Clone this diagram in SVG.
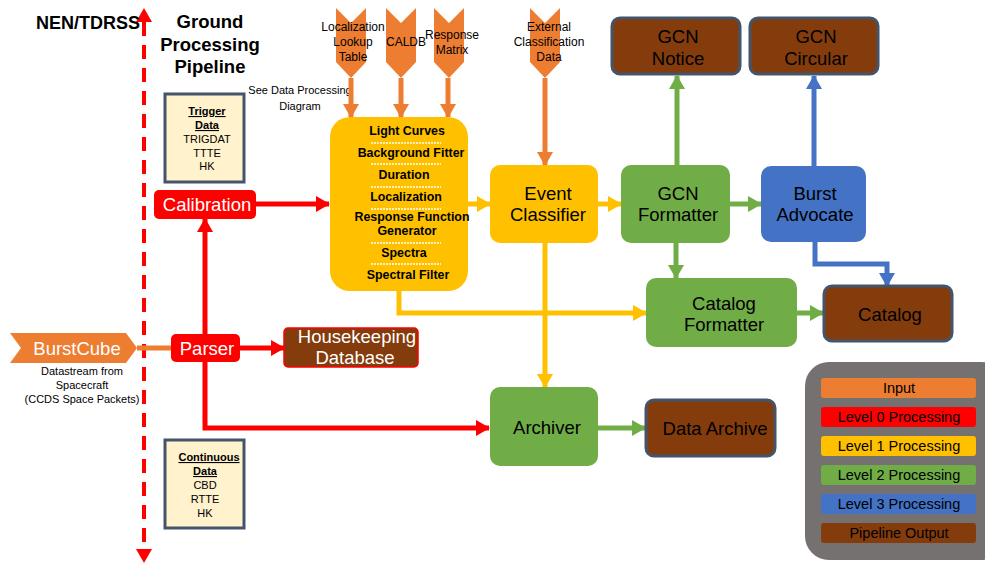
<svg xmlns="http://www.w3.org/2000/svg" width="985" height="565" viewBox="0 0 985 565">
<defs>
<style>
text{font-family:"Liberation Sans",Arial,sans-serif;text-anchor:middle}
.t17{font-size:18.5px}
.w{fill:#fff}
.b{fill:#000}
.bold{font-weight:bold}
.sm{font-size:11px}
.ch{font-size:12px}
.proc{font-size:12.4px;font-weight:bold}
.lg{font-size:14.5px}
.c{fill:none;stroke-width:5}
.red{stroke:#FF0000}
.org{stroke:#ED7D31}
.yel{stroke:#FFC000}
.grn{stroke:#70AD47}
.blu{stroke:#4472C4}
.out{fill:#843C0C;stroke:#44546A;stroke-width:3}
.sep{stroke:#fff;stroke-width:1.5;stroke-dasharray:2,1}
</style>
<marker id="aR" markerUnits="userSpaceOnUse" markerWidth="14" markerHeight="16" refX="13" refY="8" orient="auto"><path d="M0,0 L14,8 L0,16 Z" fill="#FF0000"/></marker>
<marker id="aO" markerUnits="userSpaceOnUse" markerWidth="14" markerHeight="16" refX="13" refY="8" orient="auto"><path d="M0,0 L14,8 L0,16 Z" fill="#ED7D31"/></marker>
<marker id="aY" markerUnits="userSpaceOnUse" markerWidth="14" markerHeight="16" refX="13" refY="8" orient="auto"><path d="M0,0 L14,8 L0,16 Z" fill="#FFC000"/></marker>
<marker id="aG" markerUnits="userSpaceOnUse" markerWidth="14" markerHeight="16" refX="13" refY="8" orient="auto"><path d="M0,0 L14,8 L0,16 Z" fill="#70AD47"/></marker>
<marker id="aB" markerUnits="userSpaceOnUse" markerWidth="14" markerHeight="16" refX="13" refY="8" orient="auto"><path d="M0,0 L14,8 L0,16 Z" fill="#4472C4"/></marker>
</defs>

<g id="boundary">
<line x1="144" y1="22" x2="144" y2="550" stroke="#FF0000" stroke-width="4" stroke-dasharray="14,9"/>
<path d="M136,22 L144,8 L152,22 Z" fill="#FF0000"/>
<path d="M136,549 L144,563 L152,549 Z" fill="#FF0000"/>
<text x="88" y="29" class="bold" font-size="18">NEN/TDRSS</text>
<text x="210" y="28" class="bold" font-size="18.5">Ground</text>
<text x="210" y="51" class="bold" font-size="18.5">Processing</text>
<text x="210" y="73" class="bold" font-size="18.5">Pipeline</text>
<text x="300" y="94" class="sm">See Data Processing</text>
<text x="300" y="110" class="sm">Diagram</text>
</g>

<g id="connectors">
<line x1="137" y1="348" x2="172" y2="348" class="c org"/>
<line x1="240" y1="348" x2="284" y2="348" class="c red" marker-end="url(#aR)"/>
<line x1="205" y1="334" x2="205" y2="219" class="c red" marker-end="url(#aR)"/>
<polyline points="205,362 205,428 489,428" class="c red" marker-end="url(#aR)"/>
<line x1="256" y1="204" x2="329" y2="204" class="c red" marker-end="url(#aR)"/>
<line x1="351" y1="78" x2="351" y2="117" class="c org" marker-end="url(#aO)"/>
<line x1="401" y1="78" x2="401" y2="117" class="c org" marker-end="url(#aO)"/>
<line x1="448" y1="78" x2="448" y2="117" class="c org" marker-end="url(#aO)"/>
<line x1="545" y1="78" x2="545" y2="165" class="c org" marker-end="url(#aO)"/>
<line x1="468" y1="204" x2="490" y2="204" class="c yel" marker-end="url(#aY)"/>
<line x1="598" y1="204" x2="621" y2="204" class="c yel" marker-end="url(#aY)"/>
<polyline points="399,291 399,313 646,313" class="c yel" marker-end="url(#aY)"/>
<line x1="545" y1="243" x2="545" y2="387" class="c yel" marker-end="url(#aY)"/>
<line x1="677" y1="165" x2="677" y2="76" class="c grn" marker-end="url(#aG)"/>
<line x1="730" y1="204" x2="761" y2="204" class="c grn" marker-end="url(#aG)"/>
<line x1="676" y1="243" x2="676" y2="278" class="c grn" marker-end="url(#aG)"/>
<line x1="797" y1="313" x2="823" y2="313" class="c grn" marker-end="url(#aG)"/>
<line x1="598" y1="428" x2="645" y2="428" class="c grn" marker-end="url(#aG)"/>
<line x1="814" y1="166" x2="814" y2="76" class="c blu" marker-end="url(#aB)"/>
<polyline points="815,242 815,264 887,264 887,286" class="c blu" marker-end="url(#aB)"/>
</g>

<g id="burstcube">
<path d="M10,333 L126,333 L137,348 L126,363 L10,363 L21,348 Z" fill="#ED7D31"/>
<text x="77" y="355" class="t17 w">BurstCube</text>
<text x="82" y="375" class="sm">Datastream from</text>
<text x="82" y="389" class="sm">Spacecraft</text>
<text x="82" y="403" class="sm">(CCDS Space Packets)</text>
</g>

<g id="trigger-data">
<rect x="165" y="94" width="79" height="88" fill="#FFF2CC" stroke="#44546A" stroke-width="3"/>
<text x="207" y="115" class="sm bold" text-decoration="underline">Trigger</text>
<text x="207" y="129" class="sm bold" text-decoration="underline">Data</text>
<text x="207" y="143" class="sm">TRIGDAT</text>
<text x="207" y="157" class="sm">TTTE</text>
<text x="207" y="170" class="sm">HK</text>
</g>

<g id="continuous-data">
<rect x="165" y="440" width="79" height="88" fill="#FFF2CC" stroke="#44546A" stroke-width="3"/>
<text x="209" y="461" class="sm bold" text-decoration="underline">Continuous</text>
<text x="205" y="475" class="sm bold" text-decoration="underline">Data</text>
<text x="205" y="489" class="sm">CBD</text>
<text x="205" y="503" class="sm">RTTE</text>
<text x="205" y="517" class="sm">HK</text>
</g>

<g id="calibration">
<rect x="154" y="190" width="102" height="29" rx="5" fill="#FF0000"/>
<text x="207" y="211" class="t17 w">Calibration</text>
</g>

<g id="parser">
<rect x="171" y="334" width="69" height="28" rx="5" fill="#FF0000"/>
<text x="207" y="355" class="t17 w">Parser</text>
</g>

<g id="housekeeping">
<rect x="284" y="328" width="134" height="39" rx="4" fill="#843C0C" stroke="#FF0000" stroke-width="1.5"/>
<text x="357" y="343" class="t17 w">Housekeeping</text>
<text x="355" y="364" class="t17 w">Database</text>
</g>

<g id="in-lookup">
<path d="M336,8 L351,23 L366,8 L366,62 L351,78 L336,62 Z" fill="#ED7D31"/>
<text x="353" y="31" class="ch">Localization</text>
<text x="353" y="46" class="ch">Lookup</text>
<text x="353" y="61" class="ch">Table</text>
</g>
<g id="in-caldb">
<path d="M386,8 L401,23 L416,8 L416,62 L401,78 L386,62 Z" fill="#ED7D31"/>
<text x="406" y="46" class="ch">CALDB</text>
</g>
<g id="in-response">
<path d="M434,8 L449,23 L464,8 L464,62 L449,78 L434,62 Z" fill="#ED7D31"/>
<text x="452" y="39" class="ch">Response</text>
<text x="452" y="54" class="ch">Matrix</text>
</g>
<g id="in-external">
<path d="M530,8 L545,23 L560,8 L560,62 L545,78 L530,62 Z" fill="#ED7D31"/>
<text x="549" y="31" class="ch">External</text>
<text x="549" y="46" class="ch">Classification</text>
<text x="549" y="61" class="ch">Data</text>
</g>

<g id="processing">
<rect x="330" y="117" width="138" height="174" rx="20" fill="#FFC000"/>
<text x="407" y="135" class="proc">Light Curves</text>
<line x1="371" y1="143" x2="441" y2="143" class="sep"/>
<text x="411" y="157" class="proc">Background Fitter</text>
<line x1="371" y1="164" x2="441" y2="164" class="sep"/>
<text x="404" y="179" class="proc">Duration</text>
<line x1="371" y1="187" x2="441" y2="187" class="sep"/>
<text x="406" y="201" class="proc">Localization</text>
<line x1="371" y1="209" x2="441" y2="209" class="sep"/>
<text x="412" y="221" class="proc">Response Function</text>
<text x="407" y="235" class="proc">Generator</text>
<line x1="371" y1="243" x2="441" y2="243" class="sep"/>
<text x="404" y="257" class="proc">Spectra</text>
<line x1="371" y1="264" x2="441" y2="264" class="sep"/>
<text x="408" y="279" class="proc">Spectral Filter</text>
</g>

<g id="event-classifier">
<rect x="490" y="165" width="108" height="78" rx="10" fill="#FFC000"/>
<text x="548" y="200" class="t17 b">Event</text>
<text x="548" y="221" class="t17 b">Classifier</text>
</g>

<g id="gcn-formatter">
<rect x="621" y="165" width="109" height="78" rx="10" fill="#70AD47"/>
<text x="678" y="200" class="t17 b">GCN</text>
<text x="678" y="221" class="t17 b">Formatter</text>
</g>

<g id="burst-advocate">
<rect x="761" y="166" width="105" height="76" rx="10" fill="#4472C4"/>
<text x="815" y="200" class="t17 b">Burst</text>
<text x="815" y="221" class="t17 b">Advocate</text>
</g>

<g id="gcn-notice">
<rect x="612" y="18" width="128" height="56" rx="8" class="out"/>
<text x="678" y="43" class="t17 b">GCN</text>
<text x="678" y="65" class="t17 b">Notice</text>
</g>

<g id="gcn-circular">
<rect x="750" y="18" width="128" height="56" rx="8" class="out"/>
<text x="816" y="43" class="t17 b">GCN</text>
<text x="816" y="65" class="t17 b">Circular</text>
</g>

<g id="catalog-formatter">
<rect x="646" y="278" width="151" height="69" rx="10" fill="#70AD47"/>
<text x="724" y="310" class="t17 b">Catalog</text>
<text x="724" y="331" class="t17 b">Formatter</text>
</g>

<g id="catalog">
<rect x="824" y="286" width="128" height="55" rx="8" class="out"/>
<text x="890" y="321" class="t17 b">Catalog</text>
</g>

<g id="archiver">
<rect x="490" y="387" width="108" height="79" rx="10" fill="#70AD47"/>
<text x="547" y="434" class="t17 b">Archiver</text>
</g>

<g id="data-archive">
<rect x="646" y="400" width="129" height="56" rx="8" class="out"/>
<text x="715" y="435" class="t17 b">Data Archive</text>
</g>

<g id="legend">
<rect x="805" y="362" width="200" height="198" rx="24" fill="#767171"/>
<rect x="821" y="378" width="155" height="20" rx="3" fill="#ED7D31"/>
<text x="899" y="393" class="lg">Input</text>
<rect x="821" y="407" width="155" height="20" rx="3" fill="#FF0000"/>
<text x="899" y="422" class="lg">Level 0 Processing</text>
<rect x="821" y="436" width="155" height="20" rx="3" fill="#FFC000"/>
<text x="899" y="451" class="lg">Level 1 Processing</text>
<rect x="821" y="465" width="155" height="20" rx="3" fill="#70AD47"/>
<text x="899" y="480" class="lg">Level 2 Processing</text>
<rect x="821" y="494" width="155" height="20" rx="3" fill="#4472C4"/>
<text x="899" y="509" class="lg">Level 3 Processing</text>
<rect x="821" y="523" width="155" height="20" rx="3" fill="#843C0C"/>
<text x="899" y="538" class="lg">Pipeline Output</text>
</g>
</svg>
